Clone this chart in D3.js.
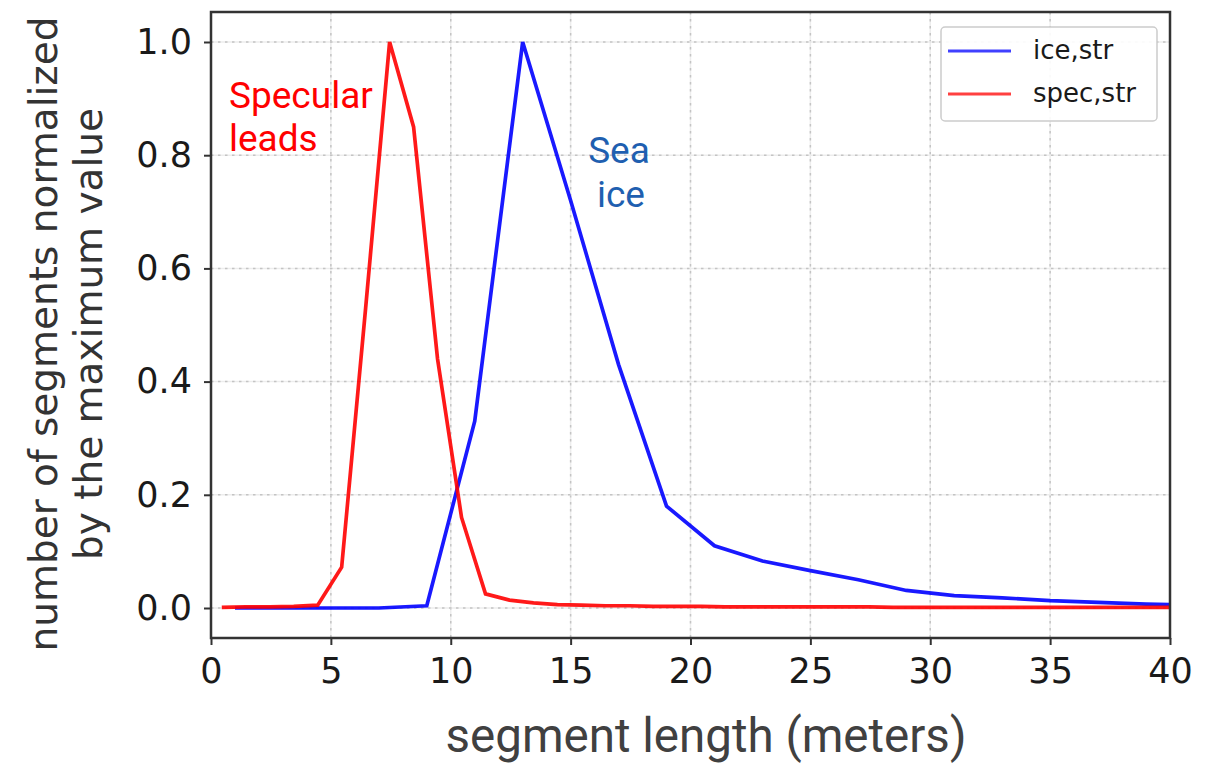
<!DOCTYPE html>
<html>
<head>
<meta charset="utf-8">
<script src="https://cdn.jsdelivr.net/npm/d3@7"></script>
<style>
  html, body { margin: 0; padding: 0; background: #fff; }
  svg { display: block; }
</style>
</head>
<body>
<svg id="chart" width="1211" height="764"></svg>
<script>
// Segment length (m) and normalized counts, sea ice segments
const iceX = [1, 3, 5, 7, 9, 11, 13, 15, 17, 19, 21, 23, 25, 27, 29, 31, 33, 35, 37, 39, 41];
const iceY = [0, 0, 0, 0, 0.004, 0.33, 1.0, 0.72, 0.43, 0.18, 0.11, 0.083, 0.066, 0.05, 0.031, 0.022, 0.018, 0.013, 0.01, 0.007, 0.005];

// Segment length (m) and normalized counts, specular lead segments
const specX = [0.45, 1.45, 2.45, 3.45, 4.45, 5.45, 6.45, 7.45, 8.45, 9.45, 10.45, 11.45, 12.45, 13.45,
  14.45, 15.45, 16.45, 17.45, 18.45, 19.45, 20.45, 21.45, 22.45, 23.45, 24.45, 25.45, 26.45, 27.45,
  28.45, 29.45, 30.45, 31.45, 32.45, 33.45, 34.45, 35.45, 36.45, 37.45, 38.45, 39.45, 40.45];
const specY = [0.001, 0.002, 0.002, 0.003, 0.005, 0.072, 0.53, 1.0, 0.85, 0.44, 0.16, 0.025, 0.014, 0.009,
  0.006, 0.005, 0.004, 0.004, 0.003, 0.003, 0.003, 0.002, 0.002, 0.002, 0.002, 0.002, 0.002, 0.002,
  0.001, 0.001, 0.001, 0.001, 0.001, 0.001, 0.001, 0.001, 0.001, 0.001, 0.001, 0.001, 0.001];

const xTicks = [0, 5, 10, 15, 20, 25, 30, 35, 40];
const yTicks = [0.0, 0.2, 0.4, 0.6, 0.8, 1.0];
const seriesNames = ["ice,str", "spec,str"];
const seriesColors = ["#0000ff", "#ff0000"];

const svg = d3.select("#chart");
const L = 211, R = 1170, T = 12, B = 638;

const x = d3.scaleLinear().domain([0, 40]).range([L, R]);
const y = d3.scaleLinear().domain([-0.053, 1.053]).range([B, T]);

// grid
const grid = svg.append("g");
xTicks.forEach(t => {
  grid.append("line").attr("x1", x(t)).attr("x2", x(t)).attr("y1", T).attr("y2", B)
    .attr("stroke", "#ededed").attr("stroke-width", 1.5);
  grid.append("line").attr("x1", x(t)).attr("x2", x(t)).attr("y1", T).attr("y2", B)
    .attr("stroke", "#c4c4c4").attr("stroke-width", 1.5).attr("stroke-dasharray", "2.5,4.5");
});
yTicks.forEach(t => {
  grid.append("line").attr("x1", L).attr("x2", R).attr("y1", y(t)).attr("y2", y(t))
    .attr("stroke", "#ededed").attr("stroke-width", 1.5);
  grid.append("line").attr("x1", L).attr("x2", R).attr("y1", y(t)).attr("y2", y(t))
    .attr("stroke", "#c4c4c4").attr("stroke-width", 1.5).attr("stroke-dasharray", "2.5,4.5");
});

// data lines
svg.append("clipPath").attr("id", "plotclip").append("rect")
  .attr("x", L).attr("y", T).attr("width", R - L).attr("height", B - T);

const line = d3.line().x(d => x(d[0])).y(d => y(d[1]));
const series = [d3.zip(iceX, iceY), d3.zip(specX, specY)];
const lines = svg.append("g").attr("clip-path", "url(#plotclip)");
series.forEach((s, i) => {
  lines.append("path").datum(s).attr("d", line)
    .attr("fill", "none").attr("stroke", seriesColors[i]).attr("stroke-opacity", 0.9)
    .attr("stroke-width", 3.7).attr("stroke-linejoin", "miter");
});

// axes
const xAxis = svg.append("g").attr("transform", `translate(0,${B})`)
  .call(d3.axisBottom(x).tickValues(xTicks).tickFormat(d3.format("d")).tickSize(7).tickPadding(13));
const yAxis = svg.append("g").attr("transform", `translate(${L},0)`)
  .call(d3.axisLeft(y).tickValues(yTicks).tickFormat(d3.format(".1f")).tickSize(7).tickPadding(12));
[xAxis, yAxis].forEach(a => {
  a.select(".domain").remove();
  a.selectAll(".tick line").attr("stroke", "#333").attr("stroke-width", 2);
  a.selectAll(".tick text").attr("fill", "#1a1a1a")
    .style("font-family", "'DejaVu Sans', sans-serif").style("font-size", "35px");
});

// frame
svg.append("rect").attr("x", L).attr("y", T).attr("width", R - L).attr("height", B - T)
  .attr("fill", "none").attr("stroke", "#333").attr("stroke-width", 2.5);

// axis titles
svg.append("text").attr("x", 706).attr("y", 752).attr("text-anchor", "middle")
  .attr("fill", "#404040").style("font-family", "Roboto, sans-serif").style("font-size", "47.5px")
  .text("segment length (meters)");

const yTitle = svg.append("text").attr("transform", "translate(0,334) rotate(-90)")
  .attr("text-anchor", "middle").attr("fill", "#333")
  .style("font-family", "'DejaVu Sans', sans-serif").style("font-size", "39px");
yTitle.append("tspan").attr("x", 0).attr("y", 57).text("number of segments normalized");
yTitle.append("tspan").attr("x", 0).attr("y", 102).text("by the maximum value");

// annotations
const spec = svg.append("text").attr("fill", "#ff0000")
  .style("font-family", "Roboto, sans-serif").style("font-size", "37px");
spec.append("tspan").attr("x", 229).attr("y", 108).text("Specular");
spec.append("tspan").attr("x", 229).attr("y", 151).text("leads");

const sea = svg.append("text").attr("fill", "#1f5fb0").attr("text-anchor", "middle")
  .style("font-family", "Roboto, sans-serif").style("font-size", "37px");
sea.append("tspan").attr("x", 619).attr("y", 163).text("Sea");
sea.append("tspan").attr("x", 621).attr("y", 207).text("ice");

// legend
const lg = svg.append("g");
lg.append("rect").attr("x", 941).attr("y", 27).attr("width", 216).attr("height", 94)
  .attr("rx", 4).attr("fill", "#fff").attr("fill-opacity", 0.9)
  .attr("stroke", "#cccccc").attr("stroke-width", 1.5);
seriesNames.forEach((name, i) => {
  const ly = 51 + i * 43;
  lg.append("line").attr("x1", 948).attr("x2", 1011).attr("y1", ly).attr("y2", ly)
    .attr("stroke", seriesColors[i]).attr("stroke-opacity", 0.75).attr("stroke-width", 3.2);
  lg.append("text").attr("x", 1033).attr("y", ly + 8).attr("fill", "#1a1a1a")
    .style("font-family", "'DejaVu Sans', sans-serif").style("font-size", "26px").text(name);
});
</script>
</body>
</html>
